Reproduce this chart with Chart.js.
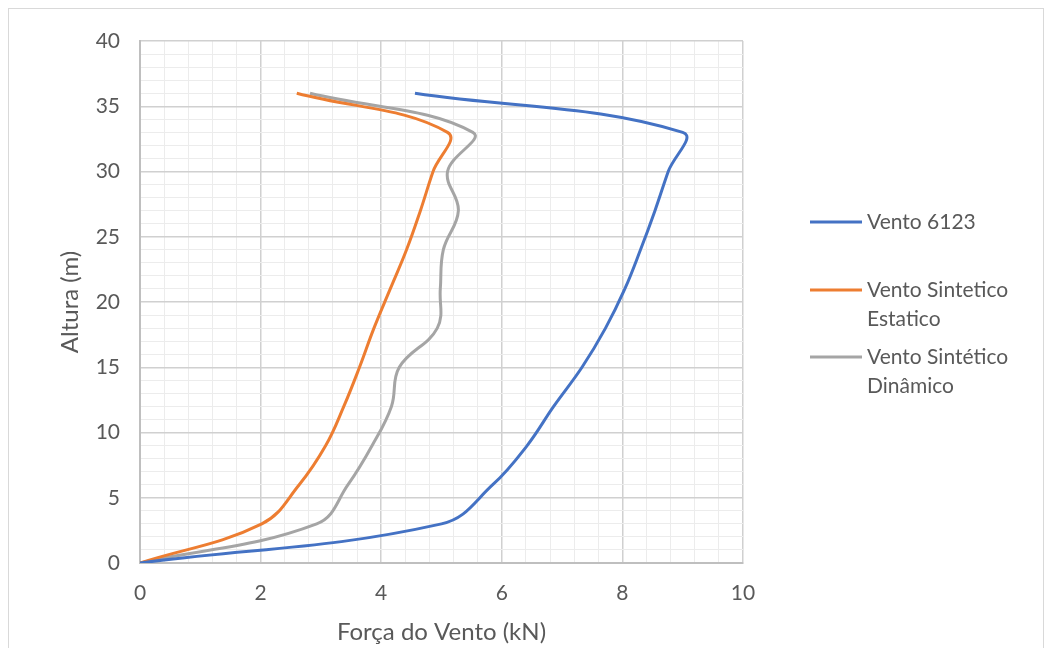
<!DOCTYPE html>
<html>
<head>
<meta charset="utf-8">
<script src="https://cdn.jsdelivr.net/npm/chart.js@4"></script>
<style>
  html, body { margin: 0; padding: 0; background: #fff; }
  #wrap { width: 1051px; height: 648px; }
</style>
</head>
<body>
<div id="wrap"><canvas id="myChart" width="1051" height="648"></canvas></div>
<script>
// alturas (m) e forças (kN)
const alturas = [0, 3, 6, 9, 12, 15, 18, 21, 24, 27, 30, 33, 36];
const vento6123 = [0, 5.0, 5.85, 6.42, 6.86, 7.33, 7.72, 8.04, 8.3, 8.54, 8.76, 9.0, 4.56];
const sinteticoEstatico = [0, 2.02, 2.64, 3.08, 3.38, 3.64, 3.88, 4.15, 4.42, 4.65, 4.86, 5.1, 2.6];
const sinteticoDinamico = [0, 2.93, 3.45, 3.85, 4.17, 4.3, 4.93, 4.98, 5.03, 5.28, 5.1, 5.52, 2.82];
const xTicks = [0, 2, 4, 6, 8, 10];
const yTicks = [0, 5, 10, 15, 20, 25, 30, 35, 40];

const labels = ['Vento 6123', 'Vento Sintetico Estatico', 'Vento Sintético Dinâmico'];
const colors = ['#4472C4', '#ED7D31', '#A5A5A5'];
const series = [vento6123, sinteticoEstatico, sinteticoDinamico];

const FONT = 'Lato, "Open Sans", sans-serif';
const TXT = '#595959';

function isMajor(v, step) {
  return Math.abs(v / step - Math.round(v / step)) < 1e-6;
}

const frame = {
  id: 'frame',
  beforeDraw(chart) {
    const c = chart.ctx;
    c.save();
    c.fillStyle = '#fff';
    c.fillRect(0, 0, chart.width, chart.height);
    c.strokeStyle = '#d9d9d9';
    c.lineWidth = 1;
    c.strokeRect(8.5, 8.5, 1035, 660);
    c.restore();
  }
};

// legenda desenhada à direita, com quebra de linha
const legendaDireita = {
  id: 'legendaDireita',
  afterDraw(chart) {
    const c = chart.ctx;
    const rows = [222, 290, 357];
    c.save();
    c.font = '21px ' + FONT;
    c.textBaseline = 'middle';
    chart.data.datasets.forEach((ds, i) => {
      const y = rows[i];
      c.strokeStyle = ds.borderColor;
      c.lineWidth = 3;
      c.beginPath();
      c.moveTo(810, y);
      c.lineTo(862, y);
      c.stroke();
      // quebra de texto
      const words = ds.label.split(' ');
      const lines = [];
      let cur = '';
      words.forEach(w => {
        const t = cur ? cur + ' ' + w : w;
        if (c.measureText(t).width > 170 && cur) { lines.push(cur); cur = w; }
        else cur = t;
      });
      lines.push(cur);
      c.fillStyle = TXT;
      lines.forEach((l, k) => c.fillText(l, 867, y + k * 29));
    });
    c.restore();
  }
};

const ctx = document.getElementById('myChart');

new Chart(ctx, {
  type: 'scatter',
  data: {
    datasets: series.map((s, i) => ({
      label: labels[i],
      data: alturas.map((h, j) => ({ x: s[j], y: h })),
      showLine: true,
      borderColor: colors[i],
      backgroundColor: colors[i],
      borderWidth: 3,
      pointRadius: 0,
      tension: 0.4
    }))
  },
  options: {
    responsive: false,
    animation: false,
    layout: { padding: { left: 0, top: 41, right: 308, bottom: 0 } },
    plugins: {
      legend: { display: false },
      tooltip: { enabled: false }
    },
    scales: {
      x: {
        type: 'linear',
        min: xTicks[0],
        max: xTicks[xTicks.length - 1],
        afterFit(scale) { scale.height = 85; },
        ticks: {
          stepSize: 0.4,
          autoSkip: false,
          maxRotation: 0,
          padding: 18,
          color: TXT,
          font: { family: FONT, size: 21 },
          callback: v => isMajor(v, 2) ? String(Math.round(v)) : ''
        },
        grid: {
          drawTicks: false,
          color: c => isMajor(c.tick.value, 2) ? '#d0d0d0' : '#ececec',
          lineWidth: c => isMajor(c.tick.value, 2) ? 1.5 : 1
        },
        border: { color: '#bfbfbf', width: 2 },
        title: {
          display: true,
          text: 'Força do Vento (kN)',
          color: TXT,
          font: { family: FONT, size: 24 },
          padding: { top: 0, bottom: 1 }
        }
      },
      y: {
        type: 'linear',
        min: yTicks[0],
        max: yTicks[yTicks.length - 1],
        afterFit(scale) { scale.width = 140; },
        ticks: {
          stepSize: 1,
          autoSkip: false,
          padding: 20,
          color: TXT,
          font: { family: FONT, size: 21 },
          callback: v => isMajor(v, 5) ? String(Math.round(v)) : ''
        },
        grid: {
          drawTicks: false,
          color: c => isMajor(c.tick.value, 5) ? '#d0d0d0' : '#ececec',
          lineWidth: c => isMajor(c.tick.value, 5) ? 1.5 : 1
        },
        border: { color: '#bfbfbf', width: 2 },
        title: {
          display: true,
          text: 'Altura (m)',
          color: TXT,
          font: { family: FONT, size: 24 },
          padding: { top: 56, bottom: 0 }
        }
      }
    }
  },
  plugins: [frame, legendaDireita]
});
</script>
</body>
</html>
